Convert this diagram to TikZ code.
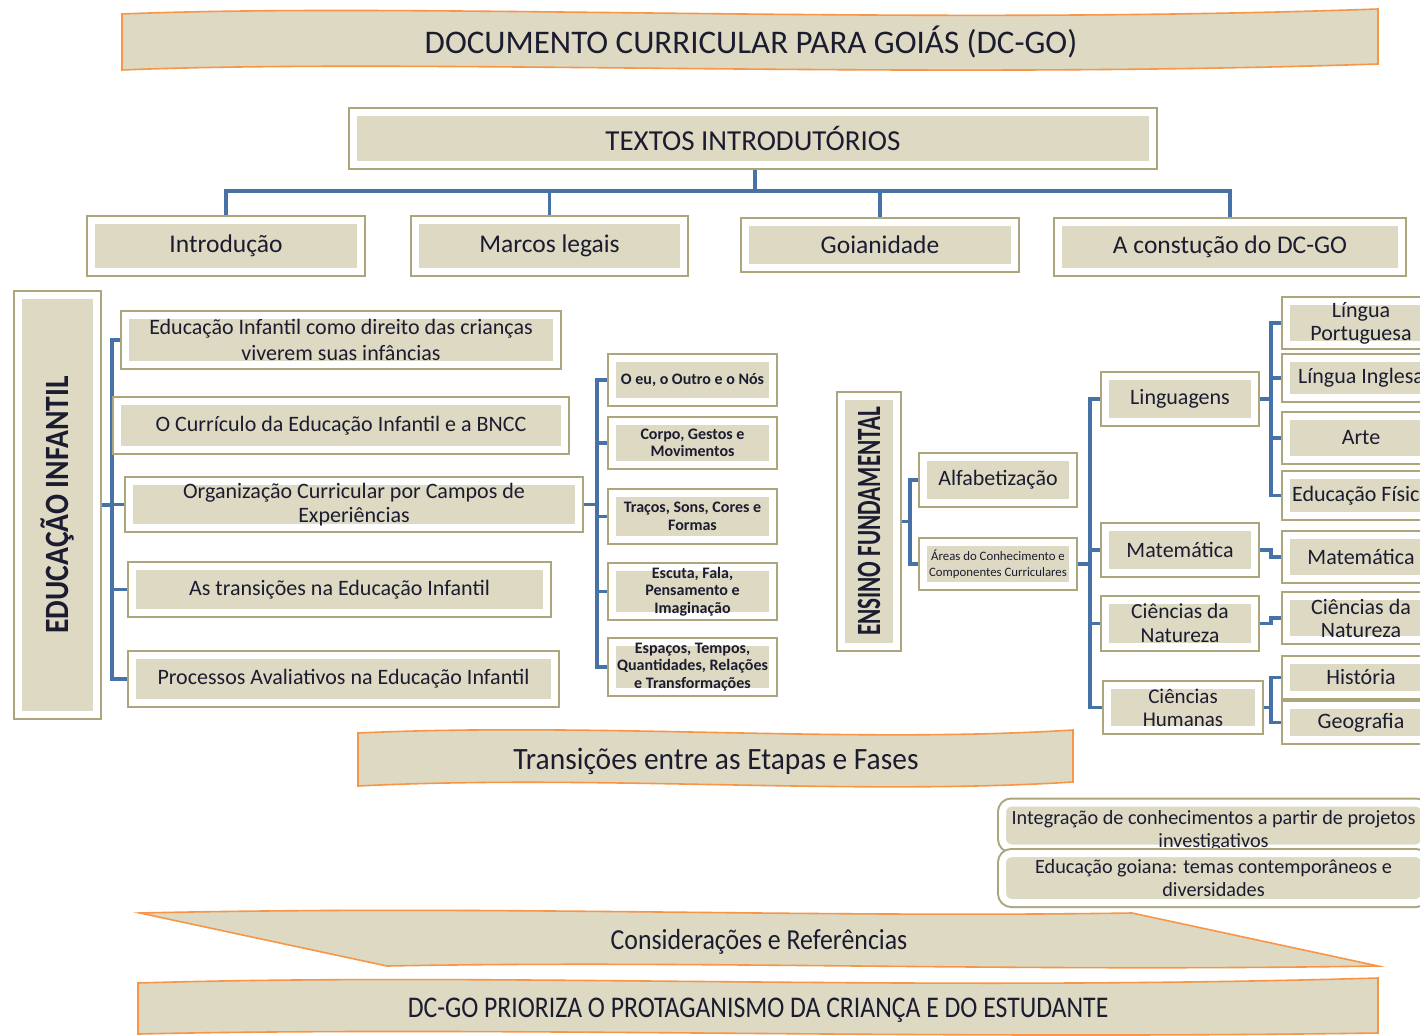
\documentclass[tikz,border=0pt]{standalone}
\usepackage{fontspec}
\usepackage{graphicx}
\setmainfont{Carlito}
\usetikzlibrary{backgrounds}

\definecolor{beige}{HTML}{DDD9C3}
\definecolor{rim}{HTML}{ADA67C}
\definecolor{ink}{HTML}{1C1C30}
\definecolor{linkblue}{HTML}{4672A8}
\definecolor{bannerline}{HTML}{F79646}
\newcommand{\fs}[2]{\fontsize{#1}{#2}\selectfont}

\tikzset{
  box/.style={rectangle, fill=beige, draw=white, line width=7pt,
    preaction={draw=rim, line width=11pt}, text=ink, align=center, inner sep=0pt},
  dims/.style n args={2}{minimum width=#1, minimum height=#2},
  camp/.style={box, minimum width=160, minimum height=#1, font=\bfseries\fs{16}{17.5}},
  comp/.style={box, minimum width=149, minimum height=#1, font=\fs{22}{23}},
  link/.style={draw=linkblue, line width=3.5pt},
  banner/.style={fill=beige, draw=bannerline, line width=1.6pt},
}

\begin{document}
\begin{tikzpicture}[x=1pt,y=-1pt]
\useasboundingbox (0,0) rectangle (1420,1035);

% banners
\draw[banner] (122,14) .. controls (420,2) and (900,26) .. (1378,9) -- (1378,64) .. controls (900,80) and (420,58) .. (122,70) -- cycle;
\node[font=\fs{33}{38}, text=ink] (title) at (751,42) {DOCUMENTO CURRICULAR PARA GOIÁS (DC-GO)};

% textos introdutorios
\node[box, dims={799}{52}, font=\fs{29}{34}] (texts) at (753,138.5) {TEXTOS INTRODUTÓRIOS};
\node[box, dims={269}{51}, font=\fs{25.5}{30}] (intro) at (226,246) {Introdução};
\node[box, dims={268}{51}, font=\fs{25.5}{30}] (marcos) at (549.5,246) {Marcos legais};
\node[box, dims={269}{45}, font=\fs{25.5}{30}] (goian) at (880,245) {Goianidade};
\node[box, dims={343}{49}, font=\fs{25.5}{30}] (constr) at (1230,247) {A constução do DC-GO};

% educacao infantil
\node[box, rotate=90, dims={419}{78}, font=\bfseries\fs{34}{40}] (ei) at (57.5,505) {\scalebox{0.87}[1]{EDUCAÇÃO INFANTIL}};
\node[box, dims={431}{49}, font=\fs{22}{26}] (ei1) at (341,340) {Educação Infantil como direito das crianças\\viverem suas infâncias};
\node[box, dims={447}{48}, font=\fs{22}{24}] (ei2) at (341,425.5) {O Currículo da Educação Infantil e a BNCC};
\node[box, dims={449}{46}, font=\fs{22}{24}] (ei3) at (354,504.5) {Organização Curricular por Campos de\\Experiências};
\node[box, dims={414}{46}, font=\fs{22}{24}] (ei4) at (339.5,589.5) {As transições na Educação Infantil};
\node[box, dims={422}{47}, font=\fs{22}{24}] (ei5) at (343.5,679) {Processos Avaliativos na Educação Infantil};

\node[camp=43] (ca) at (692.5,380) {O eu, o Outro e o Nós};
\node[camp=43] (cb) at (692.5,443) {Corpo, Gestos e\\Movimentos};
\node[camp=46] (cc) at (692.5,516.5) {Traços, Sons, Cores e\\Formas};
\node[camp=46] (cd) at (692.5,591.5) {Escuta, Fala,\\Pensamento e\\Imaginação};
\node[camp=49] (ce) at (692.5,667) {Espaços, Tempos,\\Quantidades, Relações\\e Transformações};

% ensino fundamental
\node[box, rotate=90, dims={250}{55}, font=\bfseries\fs{34}{40}] (ef) at (869,521.5) {\scalebox{0.68}[1]{ENSINO FUNDAMENTAL}};
\node[box, dims={149}{45}, font=\fs{22}{24}] (alfa) at (998,480) {Alfabetização};
\node[box, dims={149}{43}, font=\fs{12.8}{16}] (areas) at (998,564) {Áreas do Conhecimento e\\Componentes Curriculares};

\node[box, dims={149}{45}, font=\fs{22}{24}] (ling) at (1180,399) {Linguagens};
\node[box, dims={149}{45}, font=\fs{22}{24}] (mat) at (1180,550) {Matemática};
\node[box, dims={149}{46}, font=\fs{21.5}{24}] (cn) at (1180,623.5) {Ciências da\\Natureza};
\node[box, dims={151}{44}, font=\fs{21}{23}] (ch) at (1183,707.5) {Ciências\\Humanas};

\node[comp=43] (lport) at (1361,323) {Língua\\Portuguesa};
\node[comp=39] (lingl) at (1361,378) {Língua Inglesa};
\node[comp=43] (arte) at (1361,438) {Arte};
\node[comp=40] (edfis) at (1361,495.5) {Educação Física};
\node[comp=43] (mat2) at (1361,557) {Matemática};
\node[comp=43] (cn2) at (1361,618) {Ciências da\\Natureza};
\node[comp=34] (hist) at (1361,677.5) {História};
\node[comp=34] (geo) at (1361,722.5) {Geografia};

% transicoes e temas
\draw[banner] (358,733) .. controls (600,722) and (850,744) .. (1073,730) -- (1073,782) .. controls (850,796) and (600,774) .. (358,786) -- cycle;
\node[font=\fs{31}{36}, text=ink] (trans) at (716,761) {\scalebox{0.95}[1]{Transições entre as Etapas e Fases}};

\node[box, rounded corners=9pt, dims={422}{45}, font=\fs{20.2}{23}] (integ) at (1213.5,825.5) {\raisebox{-11pt}[0pt][0pt]{\begin{tabular}{@{}c@{}}Integração de conhecimentos a partir de projetos\\investigativos\end{tabular}}};
\node[box, rounded corners=9pt, dims={422}{49}, font=\fs{20.2}{23}] (goiana) at (1213.5,878) {Educação goiana: temas contemporâneos e\\diversidades};

\draw[banner] (140,913) .. controls (500,905) and (800,918) .. (1132,913) -- (1378,966) .. controls (1000,972) and (700,960) .. (387,966) -- cycle;
\node[font=\fs{29}{34}, text=ink] (cons) at (759,942) {\scalebox{0.89}[1]{Considerações e Referências}};

\draw[banner] (138,983) .. controls (500,972) and (900,992) .. (1378,978) -- (1378,1033) .. controls (900,1040) and (500,1026) .. (138,1034) -- cycle;
\node[font=\fs{30}{35}, text=ink] (prior) at (758,1010) {\scalebox{0.857}[1]{DC-GO PRIORIZA O PROTAGANISMO DA CRIANÇA E DO ESTUDANTE}};

% connectors
\begin{scope}[on background layer]
\fill[white] (0,0) rectangle (1420,1035);
\coordinate (hub) at (755,191);
\draw[link] (texts.center -| hub) -- (hub);
\draw[link] (intro) |- (hub) -| (constr);
\draw[link] (marcos) -- (marcos |- hub);
\draw[link] (goian) -- (goian |- hub);

\coordinate (eit) at (112,0);
\draw[link] (ei1) -| (eit |- ei5) -- (ei5);
\foreach \n in {ei2,ei3,ei4,ei} \draw[link] (\n) -- (\n -| eit);

\coordinate (cat) at (597,0);
\draw[link] (ca) -| (cat |- ce) -- (ce);
\foreach \n in {cb,cc,cd,ei3} \draw[link] (\n) -- (\n -| cat);

\coordinate (eft) at (910,0);
\draw[link] (alfa) -| (eft |- areas) -- (areas);
\draw[link] (ef) -- (ef -| eft);

\coordinate (art) at (1090,0);
\draw[link] (ling) -| (art |- ch) -- (ch);
\foreach \n in {mat,cn,areas} \draw[link] (\n) -- (\n -| art);

\coordinate (lt) at (1271,0);
\draw[link] (lport) -| (lt |- edfis) -- (edfis);
\foreach \n in {lingl,arte,ling} \draw[link] (\n) -- (\n -| lt);
\draw[link] (mat) -- (mat -| lt) |- (mat2);
\draw[link] (cn) -- (cn -| lt) |- (cn2);
\draw[link] (hist) -| (lt |- geo) -- (geo);
\draw[link] (ch) -- (ch -| lt);
\end{scope}
\end{tikzpicture}
\end{document}
